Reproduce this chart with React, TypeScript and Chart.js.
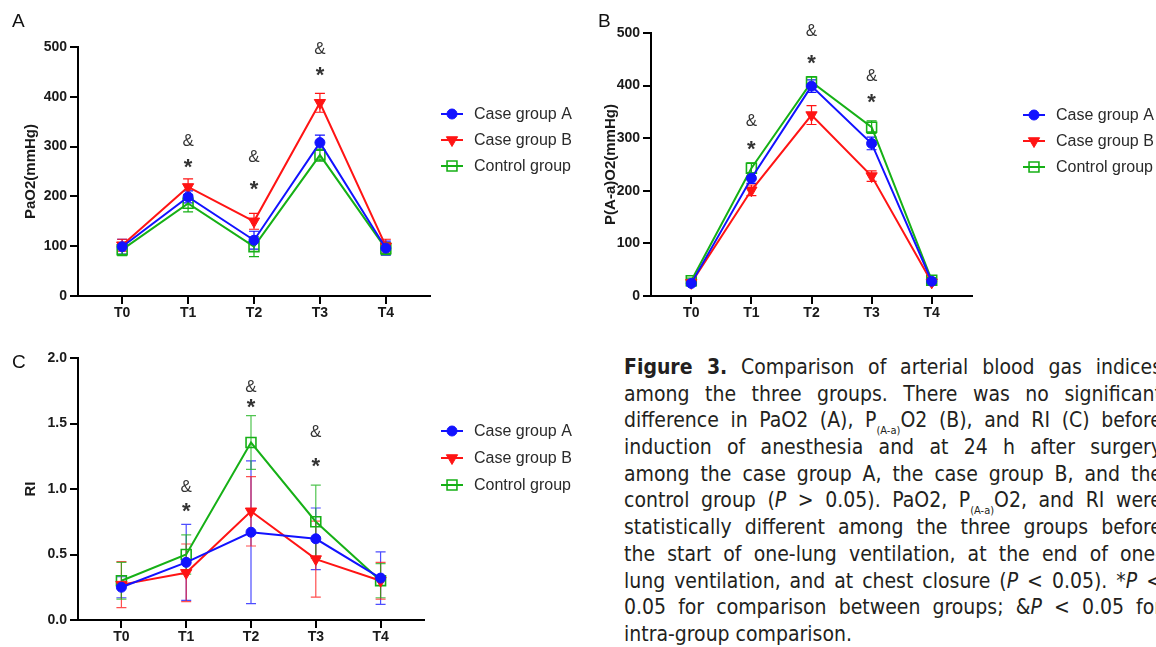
import React, { useEffect, useRef } from "react";
import { Chart, registerables } from "chart.js";

Chart.register(...registerables);

// ---------- data ----------
const timeLabels = ["T0", "T1", "T2", "T3", "T4"];
const seriesNames = ["Case group A", "Case group B", "Control group"];

// Panel A: PaO2 (mmHg)
const paO2CaseA = [99, 199, 112, 308, 96];
const paO2CaseB = [102, 219, 150, 388, 100];
const paO2Control = [93, 186, 99, 283, 95];
const paO2ErrCaseA = [15, 12, 18, 15, 14];
const paO2ErrCaseB = [12, 16, 16, 19, 14];
const paO2ErrControl = [12, 17, 20, 12, 12];
const paO2SigX = [1, 2, 3];
const paO2AmpY = [313, 281, 497];
const paO2StarY = [271, 226, 455];
const paO2Ticks = [0, 100, 200, 300, 400, 500];

// Panel B: P(A-a)O2 (mmHg)
const paaO2CaseA = [24, 224, 399, 290, 28];
const paaO2CaseB = [25, 201, 344, 228, 26];
const paaO2Control = [29, 243, 407, 321, 30];
const paaO2ErrCaseA = [5, 10, 12, 12, 5];
const paaO2ErrCaseB = [5, 10, 18, 10, 5];
const paaO2ErrControl = [5, 10, 10, 12, 5];
const paaO2SigX = [1, 2, 3];
const paaO2AmpY = [334, 505, 421];
const paaO2StarY = [290, 454, 380];
const paaO2Ticks = [0, 100, 200, 300, 400, 500];

// Panel C: RI
const riCaseA = [0.25, 0.44, 0.67, 0.62, 0.32];
const riCaseB = [0.27, 0.36, 0.83, 0.465, 0.3];
const riControl = [0.3, 0.5, 1.355, 0.75, 0.3];
const riErrCaseA = [0.08, 0.29, 0.545, 0.235, 0.2];
const riErrCaseB = [0.175, 0.22, 0.265, 0.29, 0.14];
const riErrControl = [0.14, 0.15, 0.205, 0.28, 0.13];
const riSigX = [1, 2, 3];
const riAmpY = [1.02, 1.79, 1.44];
const riStarY = [0.875, 1.67, 1.22];
const riTicks = [0, 0.5, 1.0, 1.5, 2.0];

// ---------- styling ----------
const BLUE = "#1212ff";
const RED = "#ff1414";
const GREEN = "#16b016";
const FONT = "'Liberation Sans', Arial, sans-serif";

const seriesStyles = [
  { color: BLUE, pointStyle: "circle", radius: 5, rotation: 0, fill: BLUE, bw: 1 },
  { color: RED, pointStyle: "triangle", radius: 6.5, rotation: 180, fill: RED, bw: 1 },
  { color: GREEN, pointStyle: "rect", radius: 7, rotation: 0, fill: "rgba(0,0,0,0)", bw: 1.6 },
];

const errorBarPlugin = {
  id: "errorBars",
  beforeDatasetsDraw(chart: any, _a: any, opts: any) {
    const ctx = chart.ctx;
    const ys = chart.scales.y;
    chart.data.datasets.forEach((ds: any, di: number) => {
      const meta = chart.getDatasetMeta(di);
      const errs = ds.errorBars || [];
      ctx.save();
      ctx.strokeStyle = ds.borderColor;
      ctx.globalAlpha = opts.alpha ?? 1;
      ctx.lineWidth = 1.2;
      meta.data.forEach((pt: any, i: number) => {
        const v = ds.data[i].y;
        const e = errs[i] || 0;
        const x = pt.x;
        const top = ys.getPixelForValue(v + e);
        const bot = ys.getPixelForValue(v - e);
        ctx.beginPath();
        ctx.moveTo(x, top);
        ctx.lineTo(x, bot);
        ctx.moveTo(x - 5, top);
        ctx.lineTo(x + 5, top);
        ctx.moveTo(x - 5, bot);
        ctx.lineTo(x + 5, bot);
        ctx.stroke();
      });
      ctx.restore();
    });
  },
};

const sigPlugin = {
  id: "sigMarks",
  afterDraw(chart: any, _a: any, opts: any) {
    const ctx = chart.ctx;
    const xs = chart.scales.x;
    const ys = chart.scales.y;
    ctx.save();
    ctx.fillStyle = "#333";
    ctx.textAlign = "center";
    ctx.textBaseline = "alphabetic";
    (opts.xs || []).forEach((xv: number, i: number) => {
      const px = xs.getPixelForValue(xv);
      ctx.font = `17px ${FONT}`;
      ctx.fillText("&", px, ys.getPixelForValue(opts.amp[i]) + 6);
      ctx.font = `bold 22px ${FONT}`;
      ctx.fillText("*", px, ys.getPixelForValue(opts.star[i]) + 13);
    });
    ctx.restore();
  },
};

function drawMarker(ctx: any, st: any, x: number, y: number) {
  ctx.save();
  ctx.strokeStyle = st.color;
  ctx.fillStyle = st.fill;
  ctx.lineWidth = st.bw;
  ctx.beginPath();
  if (st.pointStyle === "circle") {
    ctx.arc(x, y, st.radius, 0, Math.PI * 2);
    ctx.fill();
    ctx.stroke();
  } else if (st.pointStyle === "triangle") {
    const r = st.radius;
    ctx.moveTo(x, y + r);
    ctx.lineTo(x - r * 0.866, y - r * 0.5);
    ctx.lineTo(x + r * 0.866, y - r * 0.5);
    ctx.closePath();
    ctx.fill();
    ctx.stroke();
  } else {
    const s = st.radius * Math.SQRT1_2;
    ctx.rect(x - s, y - s, 2 * s, 2 * s);
    ctx.stroke();
  }
  ctx.restore();
}

const legendPlugin = {
  id: "sideLegend",
  afterDraw(chart: any, _a: any, opts: any) {
    const ctx = chart.ctx;
    ctx.save();
    seriesNames.forEach((name, i) => {
      const st = seriesStyles[i];
      const y = opts.ys[i];
      ctx.strokeStyle = st.color;
      ctx.lineWidth = 2;
      ctx.beginPath();
      ctx.moveTo(opts.symX - 11, y);
      ctx.lineTo(opts.symX + 11, y);
      ctx.stroke();
      drawMarker(ctx, st, opts.symX, y);
      ctx.fillStyle = "#2a2a2a";
      ctx.font = `16px ${FONT}`;
      ctx.textAlign = "left";
      ctx.textBaseline = "middle";
      ctx.fillText(name, opts.textX, y + 1);
    });
    ctx.restore();
  },
};

type PanelSpec = {
  width: number;
  height: number;
  yWidth: number;
  padTop: number;
  padRight: number;
  padBottom: number;
  yMin: number;
  yMax: number;
  yTicks: number[];
  yDecimals: number;
  yTitle: string;
  series: number[][];
  errors: number[][];
  sigX: number[];
  amp: number[];
  star: number[];
  legend: { symX: number; textX: number; ys: number[] };
  errAlpha: number;
};

function buildConfig(p: PanelSpec): any {
  const axisFont = { family: FONT, size: 14, weight: "bold" as const };
  return {
    type: "line",
    data: {
      datasets: p.series.map((vals, si) => {
        const st = seriesStyles[si];
        return {
          label: seriesNames[si],
          data: vals.map((v, i) => ({ x: i, y: v })),
          errorBars: p.errors[si],
          borderColor: st.color,
          backgroundColor: st.fill,
          borderWidth: 2,
          pointStyle: st.pointStyle,
          pointRadius: st.radius,
          pointRotation: st.rotation,
          pointBackgroundColor: st.fill,
          pointBorderColor: st.color,
          pointBorderWidth: st.bw,
          tension: 0,
          fill: false,
          clip: false,
        };
      }),
    },
    options: {
      animation: false,
      responsive: false,
      maintainAspectRatio: false,
      layout: { padding: { left: 0, top: p.padTop, right: p.padRight, bottom: p.padBottom } },
      plugins: {
        legend: { display: false },
        tooltip: { enabled: false },
        errorBars: { alpha: p.errAlpha },
        sigMarks: { xs: p.sigX, amp: p.amp, star: p.star },
        sideLegend: p.legend,
      },
      scales: {
        x: {
          type: "linear",
          min: -0.67,
          max: 4.67,
          afterBuildTicks: (s: any) => {
            s.ticks = timeLabels.map((_, i) => ({ value: i }));
          },
          afterFit: (s: any) => {
            s.height = 24;
          },
          ticks: {
            callback: (v: any) => timeLabels[v] ?? "",
            font: axisFont,
            color: "#1a1a1a",
            padding: 1,
            maxRotation: 0,
            autoSkip: false,
          },
          grid: { drawOnChartArea: false, color: "#000", lineWidth: 2, tickLength: 8 },
          border: { color: "#000", width: 2 },
        },
        y: {
          type: "linear",
          min: p.yMin,
          max: p.yMax,
          afterBuildTicks: (s: any) => {
            s.ticks = p.yTicks.map((v) => ({ value: v }));
          },
          afterFit: (s: any) => {
            s.width = p.yWidth;
          },
          ticks: {
            callback: (v: any) => Number(v).toFixed(p.yDecimals),
            font: axisFont,
            color: "#1a1a1a",
            padding: 3,
          },
          grid: { drawOnChartArea: false, color: "#000", lineWidth: 2, tickLength: 8 },
          border: { color: "#000", width: 2 },
          title: {
            display: true,
            text: p.yTitle,
            font: { family: FONT, size: 15, weight: "bold" },
            color: "#1a1a1a",
            padding: { top: 22, bottom: 0 },
          },
        },
      },
    },
    plugins: [errorBarPlugin, sigPlugin, legendPlugin],
  };
}

function ChartPanel({ spec, left, top }: { spec: PanelSpec; left: number; top: number }) {
  const ref = useRef<HTMLCanvasElement | null>(null);
  useEffect(() => {
    if (!ref.current) return;
    const chart = new Chart(ref.current, buildConfig(spec));
    return () => chart.destroy();
  }, [spec]);
  return (
    <canvas
      ref={ref}
      width={spec.width}
      height={spec.height}
      style={{ position: "absolute", left, top, width: spec.width, height: spec.height, display: "block" }}
    />
  );
}

const panelA: PanelSpec = {
  width: 580, height: 330, yWidth: 78, padTop: 47, padRight: 150, padBottom: 10,
  yMin: 0, yMax: 500, yTicks: paO2Ticks, yDecimals: 0, yTitle: "PaO2(mmHg)",
  series: [paO2CaseA, paO2CaseB, paO2Control],
  errors: [paO2ErrCaseA, paO2ErrCaseB, paO2ErrControl],
  sigX: paO2SigX, amp: paO2AmpY, star: paO2StarY,
  legend: { symX: 452, textX: 474, ys: [114, 140, 166] },
  errAlpha: 1,
};

const panelB: PanelSpec = {
  width: 576, height: 330, yWidth: 71, padTop: 33, padRight: 184, padBottom: 10,
  yMin: 0, yMax: 500, yTicks: paaO2Ticks, yDecimals: 0, yTitle: "P(A-a)O2(mmHg)",
  series: [paaO2CaseA, paaO2CaseB, paaO2Control],
  errors: [paaO2ErrCaseA, paaO2ErrCaseB, paaO2ErrControl],
  sigX: paaO2SigX, amp: paaO2AmpY, star: paaO2StarY,
  legend: { symX: 454, textX: 476, ys: [115, 141, 167] },
  errAlpha: 1,
};

const panelC: PanelSpec = {
  width: 580, height: 317, yWidth: 78, padTop: 28, padRight: 156, padBottom: 3,
  yMin: 0, yMax: 2, yTicks: riTicks, yDecimals: 1, yTitle: "RI",
  series: [riCaseA, riCaseB, riControl],
  errors: [riErrCaseA, riErrCaseB, riErrControl],
  sigX: riSigX, amp: riAmpY, star: riStarY,
  legend: { symX: 452, textX: 474, ys: [101, 128, 155] },
  errAlpha: 0.75,
};

const capFont = "'Liberation Sans Narrow', 'DejaVu Sans Condensed', 'Liberation Sans', Arial, sans-serif";

function Sub({ children }: { children: any }) {
  return (
    <span style={{ fontSize: 11, position: "relative", top: 7, letterSpacing: 0 }}>{children}</span>
  );
}

const captionLines: any[] = [
  <><b>Figure 3.</b> Comparison of arterial blood gas indices</>,
  <>among the three groups. There was no significant</>,
  <>difference in PaO2 (A), P<Sub>(A-a)</Sub>O2 (B), and RI (C) before</>,
  <>induction of anesthesia and at 24 h after surgery</>,
  <>among the case group A, the case group B, and the</>,
  <>control group (<i>P</i> &gt; 0.05). PaO2, P<Sub>(A-a)</Sub>O2, and RI were</>,
  <>statistically different among the three groups before</>,
  <>the start of one-lung ventilation, at the end of one-</>,
  <>lung ventilation, and at chest closure (<i>P</i> &lt; 0.05). *<i>P</i> &lt;</>,
  <>0.05 for comparison between groups; &amp;<i>P</i> &lt; 0.05 for</>,
  <>intra-group comparison.</>,
];

export default function App() {
  const label = (t: string, left: number, top: number) => (
    <div style={{ position: "absolute", left, top, fontFamily: FONT, fontSize: 19, lineHeight: "19px", color: "#111" }}>{t}</div>
  );
  return (
    <div style={{ position: "fixed", left: 0, top: 0, width: 1156, height: 647, overflow: "hidden", background: "#fff" }}>
      <ChartPanel spec={panelA} left={0} top={0} />
      <ChartPanel spec={panelB} left={580} top={0} />
      <ChartPanel spec={panelC} left={0} top={330} />
      {label("A", 12, 11)}
      {label("B", 598, 11)}
      {label("C", 12, 352)}
      <div style={{ position: "absolute", left: 624, top: 354, width: 538, fontFamily: capFont, fontSize: 21, color: "#231f20" }}>
        {captionLines.map((ln, i) => (
          <div
            key={i}
            style={{
              whiteSpace: "nowrap",
              height: 26.7,
              lineHeight: "26.7px",
              textAlign: "justify",
              textAlignLast: i === captionLines.length - 1 ? "left" : "justify",
            }}
          >
            {ln}
          </div>
        ))}
      </div>
    </div>
  );
}
